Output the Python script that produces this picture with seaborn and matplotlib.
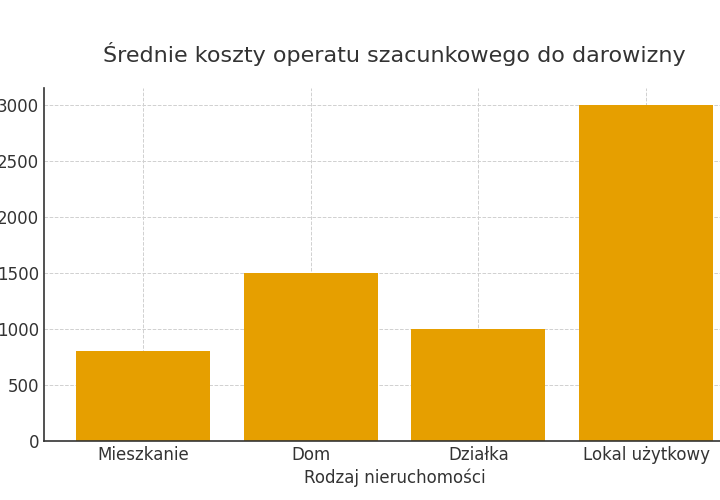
import pandas as pd
import seaborn as sns
import matplotlib.pyplot as plt

# Dane
rodzaje = ['Mieszkanie', 'Dom', 'Działka', 'Lokal użytkowy']
koszty = [800, 1500, 1000, 3000]

df = pd.DataFrame({'rodzaj': rodzaje, 'koszt': koszty})

sns.set_style("white")
plt.rcParams['font.family'] = ['DejaVu Sans']

fig = plt.figure(figsize=(7.2, 5), dpi=100)
# wykres przycięty jak w oryginale: prawa krawędź osi poza obrazem
ax = fig.add_axes([44 / 720, 0.118, (745 - 44) / 720, 0.706])

sns.barplot(data=df, x='rodzaj', y='koszt', color='#E69F00', saturation=1,
            width=0.8, edgecolor='none', linewidth=0, ax=ax, zorder=2)

ax.set_xlim(-0.59, 3.59)
ax.set_ylim(0, 3150)
ax.grid(True, linestyle='--', color='#d0d0d0', linewidth=0.7, zorder=0)
ax.set_axisbelow(True)

ax.set_title('Średnie koszty operatu szacunkowego do darowizny',
             fontsize=16, color='#333333', pad=19)
ax.set_xlabel('Rodzaj nieruchomości', fontsize=12, color='#333333', labelpad=3)
ax.set_ylabel('')
ax.tick_params(axis='both', labelsize=12, labelcolor='#333333',
               direction='in', length=4, color='#333333')

for s in ['top', 'right']:
    ax.spines[s].set_visible(False)
for s in ['left', 'bottom']:
    ax.spines[s].set_color('#333333')
    ax.spines[s].set_linewidth(1.2)

fig.savefig('out.png', dpi=100)
